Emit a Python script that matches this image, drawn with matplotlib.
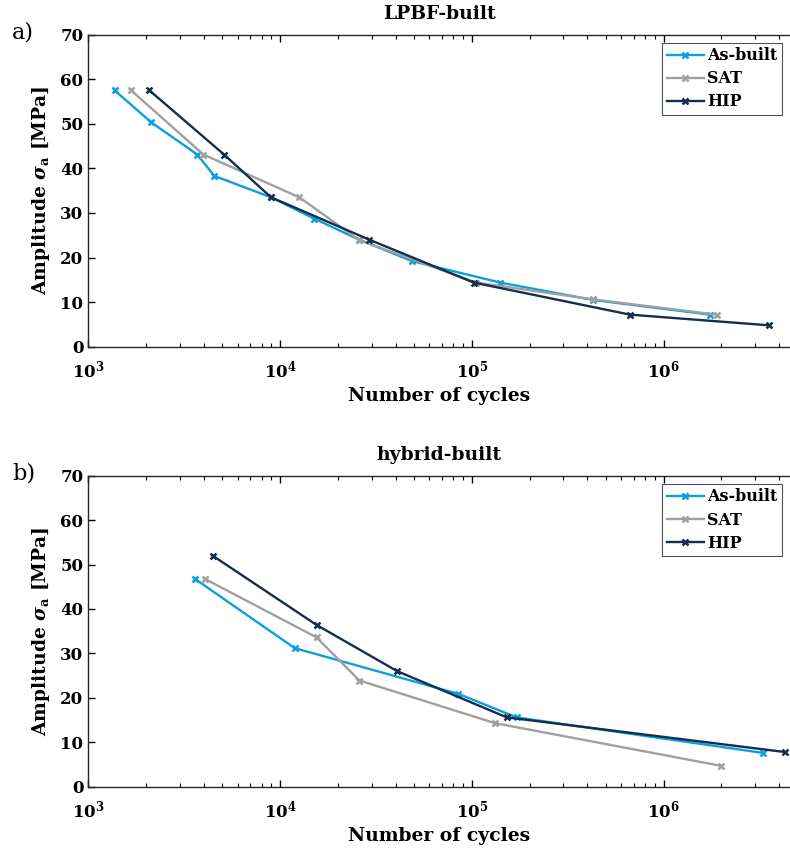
import matplotlib
matplotlib.use("Agg")
import matplotlib.pyplot as plt
import numpy as np

plt.rcParams["font.family"] = ["DejaVu Serif"]
plt.rcParams["font.weight"] = "bold"
plt.rcParams["mathtext.fontset"] = "dejavuserif"

# --- data (cycles, amplitude MPa) ---
lpbf_asbuilt_n = [1370, 2130, 3700, 4540, 8970, 15100, 25900, 48800, 140000, 427000, 1.74e6]
lpbf_asbuilt_s = [57.5, 50.3, 43.1, 38.3, 33.5, 28.7, 24.0, 19.2, 14.4, 10.5, 7.2]
lpbf_sat_n = [1670, 3980, 12600, 25900, 105000, 430000, 1.89e6]
lpbf_sat_s = [57.5, 43.1, 33.5, 23.9, 14.4, 10.6, 7.2]
lpbf_hip_n = [2080, 5100, 8970, 29200, 102000, 667000, 3.54e6]
lpbf_hip_s = [57.5, 43.1, 33.5, 24.0, 14.4, 7.2, 4.8]

hyb_asbuilt_n = [3590, 11900, 84900, 171000, 3.3e6]
hyb_asbuilt_s = [46.8, 31.2, 20.9, 15.6, 7.6]
hyb_sat_n = [4040, 15500, 25900, 132000, 1.99e6]
hyb_sat_s = [46.8, 33.6, 23.9, 14.3, 4.7]
hyb_hip_n = [4450, 15500, 40800, 152000, 4.29e6]
hyb_hip_s = [52.0, 36.4, 26.0, 15.6, 7.8]

labels = ["As-built", "SAT", "HIP"]
colors = ["#0A9FE0", "#A0A0A0", "#142E4E"]

panels = [
    ("LPBF-built", "a)", [(lpbf_asbuilt_n, lpbf_asbuilt_s), (lpbf_sat_n, lpbf_sat_s), (lpbf_hip_n, lpbf_hip_s)]),
    ("hybrid-built", "b)", [(hyb_asbuilt_n, hyb_asbuilt_s), (hyb_sat_n, hyb_sat_s), (hyb_hip_n, hyb_hip_s)]),
]

fig = plt.figure(figsize=(7.9, 8.49), dpi=100)
rects = [[0.1118, 0.5916, 0.888, 0.3677], [0.1118, 0.0734, 0.888, 0.3663]]

for rect, (title, tag, series) in zip(rects, panels):
    ax = fig.add_axes(rect)
    for (n, s), lab, c in zip(series, labels, colors):
        ax.plot(n, s, color=c, lw=1.7, marker="x", ms=4.5, mew=1.8, label=lab)
    ax.set_xscale("log")
    ax.set_xlim(1e3, 4.55e6)
    ax.set_ylim(0, 70)
    ax.set_yticks(np.arange(0, 71, 10))
    ax.tick_params(which="both", direction="in", top=True, right=False, labelsize=12)
    ax.tick_params(which="major", length=5, width=1)
    ax.tick_params(which="minor", length=3, width=0.8)
    ax.tick_params(axis="x", which="major", pad=9)
    ax.spines["right"].set_visible(False)
    for sp in ["top", "bottom", "left"]:
        ax.spines[sp].set_color("#262626")
        ax.spines[sp].set_linewidth(1)
    ax.set_title(title, fontsize=13.5, fontweight="bold", pad=11)
    ax.set_xlabel("Number of cycles", fontsize=13.5, fontweight="bold", labelpad=4)
    ax.set_ylabel(r"Amplitude $\sigma_{\rm a}$ [MPa]", fontsize=13.5, fontweight="bold", labelpad=6)
    leg = ax.legend(loc="upper right", fontsize=11.5, frameon=True, fancybox=False,
                    handlelength=2.3, handletextpad=0.2, borderpad=0.3, labelspacing=0.38,
                    borderaxespad=0.5)
    leg.get_frame().set_edgecolor("#262626")
    leg.get_frame().set_linewidth(0.8)
    fig.text(0.015, rect[1] + rect[3] + 0.003, tag, fontsize=16, fontweight="normal",
             ha="left", va="center")

fig.savefig("out.png", dpi=100)
